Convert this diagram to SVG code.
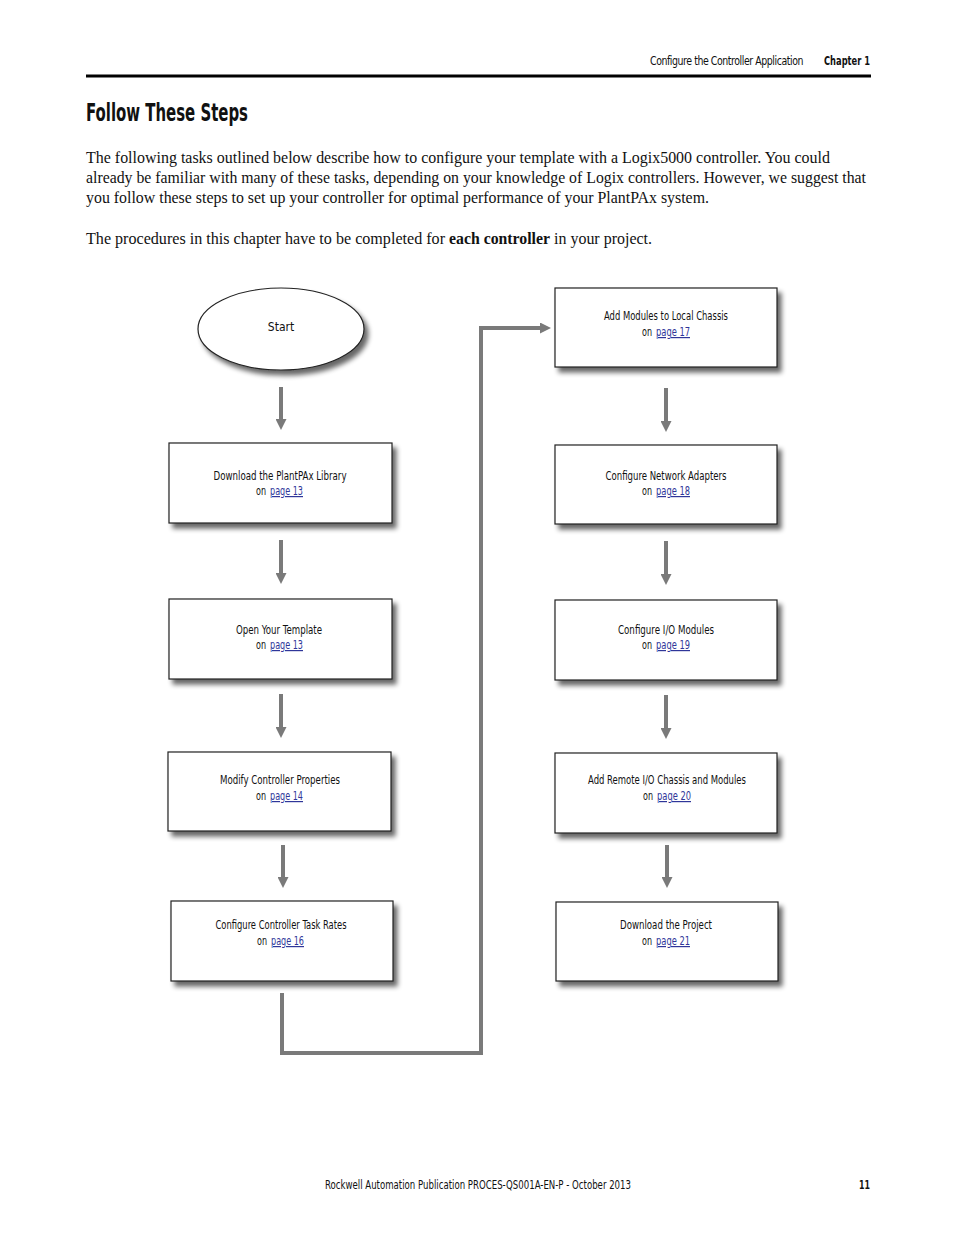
<svg xmlns="http://www.w3.org/2000/svg" width="954" height="1235" viewBox="0 0 954 1235">
<style>
.n{font-family:"Liberation Sans Narrow","DejaVu Sans Condensed","Liberation Sans",sans-serif;font-size:12px;fill:#111;text-anchor:middle}
.o{font-family:"Liberation Sans Narrow","DejaVu Sans Condensed","Liberation Sans",sans-serif;font-size:12px;fill:#111}
.lk{font-family:"Liberation Sans Narrow","DejaVu Sans Condensed","Liberation Sans",sans-serif;font-size:12px;fill:#2f3699;text-decoration:underline}
.b{fill:#fff;stroke:#222;stroke-width:1.2}
.body{font-family:"Liberation Serif",serif;font-size:16px;fill:#111}
.c{fill:none;stroke:#7a7a7a;stroke-width:4}
</style>
<defs>
<filter id="sh" x="-10%" y="-10%" width="130%" height="140%">
<feGaussianBlur in="SourceAlpha" stdDeviation="2.5"/>
<feOffset dx="4" dy="5" result="o"/>
<feComponentTransfer><feFuncA type="linear" slope="0.6"/></feComponentTransfer>
<feMerge><feMergeNode/><feMergeNode in="SourceGraphic"/></feMerge>
</filter>
<marker id="ah" markerUnits="userSpaceOnUse" markerWidth="12" markerHeight="11" refX="1" refY="5.5" orient="auto">
<path d="M0,0 L11,5.5 L0,11 Z" fill="#7a7a7a"/>
</marker>
</defs>
<rect width="954" height="1235" fill="#fff"/>
<g id="header">
<text class="o" x="650" y="65" font-size="11.5" letter-spacing="-0.5" textLength="153" lengthAdjust="spacingAndGlyphs">Configure the Controller Application</text>
<text class="o" x="824" y="65" font-weight="bold" textLength="46" lengthAdjust="spacingAndGlyphs">Chapter 1</text>
<rect x="86" y="74.5" width="785" height="3" fill="#000"/>
<text x="86" y="121" font-family="Liberation Sans Narrow,DejaVu Sans Condensed,sans-serif" font-size="24" font-weight="bold" fill="#111" textLength="162" lengthAdjust="spacingAndGlyphs">Follow These Steps</text>
<text class="body" x="86" y="163" textLength="744" lengthAdjust="spacingAndGlyphs">The following tasks outlined below describe how to configure your template with a Logix5000 controller. You could</text>
<text class="body" x="86" y="183" textLength="780" lengthAdjust="spacingAndGlyphs">already be familiar with many of these tasks, depending on your knowledge of Logix controllers. However, we suggest that</text>
<text class="body" x="86" y="203" textLength="623" lengthAdjust="spacingAndGlyphs">you follow these steps to set up your controller for optimal performance of your PlantPAx system.</text>
<text class="body" x="86" y="244" textLength="359" lengthAdjust="spacingAndGlyphs">The procedures in this chapter have to be completed for</text>
<text class="body" x="449" y="244" font-weight="bold" textLength="101" lengthAdjust="spacingAndGlyphs">each controller</text>
<text class="body" x="554" y="244" textLength="98" lengthAdjust="spacingAndGlyphs">in your project.</text>
</g>
<g id="connectors">
<line class="c" x1="281" y1="387" x2="281" y2="420" marker-end="url(#ah)"/>
<line class="c" x1="281" y1="540" x2="281" y2="574" marker-end="url(#ah)"/>
<line class="c" x1="281" y1="694" x2="281" y2="728" marker-end="url(#ah)"/>
<line class="c" x1="283" y1="845" x2="283" y2="878" marker-end="url(#ah)"/>
<line class="c" x1="666" y1="388" x2="666" y2="422" marker-end="url(#ah)"/>
<line class="c" x1="666" y1="541" x2="666" y2="575" marker-end="url(#ah)"/>
<line class="c" x1="666" y1="695" x2="666" y2="729" marker-end="url(#ah)"/>
<line class="c" x1="667" y1="845" x2="667" y2="878" marker-end="url(#ah)"/>
<polyline class="c" points="282,993 282,1053 481,1053 481,328 541,328" marker-end="url(#ah)"/>
</g>
<g id="start">
<ellipse cx="281" cy="329" rx="83" ry="41" fill="#fff" stroke="#222" stroke-width="1.2" filter="url(#sh)"/>
<text class="n" x="281" y="331">Start</text>
</g>
<g id="step1">
<rect class="b" x="169" y="443" width="223" height="80" filter="url(#sh)"/>
<text class="n" x="280" y="480" textLength="133" lengthAdjust="spacingAndGlyphs">Download the PlantPAx Library</text>
<text class="o" x="256" y="495" textLength="10" lengthAdjust="spacingAndGlyphs">on</text>
<text class="lk" x="270" y="495" textLength="33" lengthAdjust="spacingAndGlyphs">page 13</text>
</g>
<g id="step2">
<rect class="b" x="169" y="599" width="223" height="80" filter="url(#sh)"/>
<text class="n" x="279" y="634" textLength="86" lengthAdjust="spacingAndGlyphs">Open Your Template</text>
<text class="o" x="256" y="649" textLength="10" lengthAdjust="spacingAndGlyphs">on</text>
<text class="lk" x="270" y="649" textLength="33" lengthAdjust="spacingAndGlyphs">page 13</text>
</g>
<g id="step3">
<rect class="b" x="168" y="752" width="223" height="79" filter="url(#sh)"/>
<text class="n" x="280" y="784" textLength="120" lengthAdjust="spacingAndGlyphs">Modify Controller Properties</text>
<text class="o" x="256" y="800" textLength="10" lengthAdjust="spacingAndGlyphs">on</text>
<text class="lk" x="270" y="800" textLength="33" lengthAdjust="spacingAndGlyphs">page 14</text>
</g>
<g id="step4">
<rect class="b" x="171" y="901" width="222" height="80" filter="url(#sh)"/>
<text class="n" x="281" y="929" textLength="131" lengthAdjust="spacingAndGlyphs">Configure Controller Task Rates</text>
<text class="o" x="257" y="945" textLength="10" lengthAdjust="spacingAndGlyphs">on</text>
<text class="lk" x="271" y="945" textLength="33" lengthAdjust="spacingAndGlyphs">page 16</text>
</g>
<g id="step5">
<rect class="b" x="555" y="288" width="222" height="79" filter="url(#sh)"/>
<text class="n" x="666" y="320" textLength="124" lengthAdjust="spacingAndGlyphs">Add Modules to Local Chassis</text>
<text class="o" x="642" y="336" textLength="10" lengthAdjust="spacingAndGlyphs">on</text>
<text class="lk" x="656" y="336" textLength="34" lengthAdjust="spacingAndGlyphs">page 17</text>
</g>
<g id="step6">
<rect class="b" x="555" y="445" width="222" height="79" filter="url(#sh)"/>
<text class="n" x="666" y="480" textLength="121" lengthAdjust="spacingAndGlyphs">Configure Network Adapters</text>
<text class="o" x="642" y="495" textLength="10" lengthAdjust="spacingAndGlyphs">on</text>
<text class="lk" x="656" y="495" textLength="34" lengthAdjust="spacingAndGlyphs">page 18</text>
</g>
<g id="step7">
<rect class="b" x="555" y="600" width="222" height="80" filter="url(#sh)"/>
<text class="n" x="666" y="634" textLength="96" lengthAdjust="spacingAndGlyphs">Configure I/O Modules</text>
<text class="o" x="642" y="649" textLength="10" lengthAdjust="spacingAndGlyphs">on</text>
<text class="lk" x="656" y="649" textLength="34" lengthAdjust="spacingAndGlyphs">page 19</text>
</g>
<g id="step8">
<rect class="b" x="555" y="753" width="222" height="80" filter="url(#sh)"/>
<text class="n" x="667" y="784" textLength="158" lengthAdjust="spacingAndGlyphs">Add Remote I/O Chassis and Modules</text>
<text class="o" x="643" y="800" textLength="10" lengthAdjust="spacingAndGlyphs">on</text>
<text class="lk" x="657" y="800" textLength="34" lengthAdjust="spacingAndGlyphs">page 20</text>
</g>
<g id="step9">
<rect class="b" x="556" y="902" width="222" height="79" filter="url(#sh)"/>
<text class="n" x="666" y="929" textLength="92" lengthAdjust="spacingAndGlyphs">Download the Project</text>
<text class="o" x="642" y="945" textLength="10" lengthAdjust="spacingAndGlyphs">on</text>
<text class="lk" x="656" y="945" textLength="34" lengthAdjust="spacingAndGlyphs">page 21</text>
</g>
<g id="footer">
<text class="o" x="325" y="1189" textLength="306" lengthAdjust="spacingAndGlyphs">Rockwell Automation Publication PROCES-QS001A-EN-P - October 2013</text>
<text class="o" x="859" y="1189" font-weight="bold" textLength="11" lengthAdjust="spacingAndGlyphs">11</text>
</g>
</svg>
